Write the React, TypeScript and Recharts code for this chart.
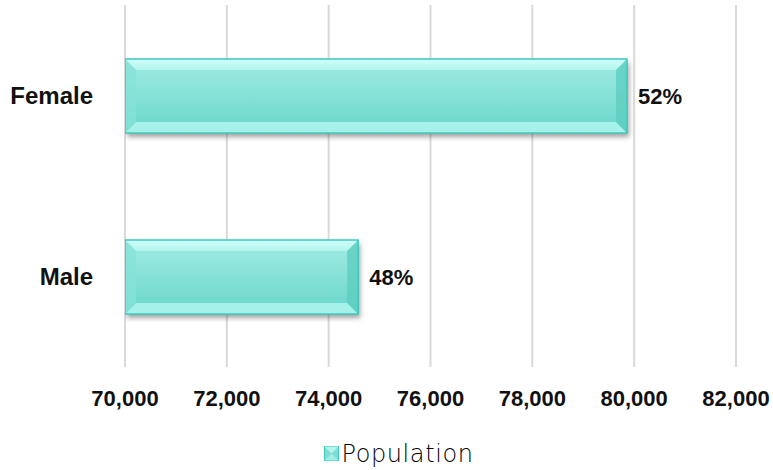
import React from 'react';
import { BarChart, Bar, XAxis, YAxis, CartesianGrid, Legend, LabelList } from 'recharts';

// values
const categories = ['Female', 'Male'];
const population = [79860, 74580];
const xTicks = [70000, 72000, 74000, 76000, 78000, 80000, 82000];
const seriesName = 'Population';

const total = population.reduce((s, v) => s + v, 0);
const chartData = categories.map((name, i) => ({
    name,
    population: population[i],
    share: Math.round((population[i] / total) * 100) + '%',
}));

const BevelBar = (props: any) => {
    const { x, y, width, height } = props;
    if (!width || !height) return null;
    const b = Math.min(11, height / 6, width / 4);
    const r = x + width;
    const bt = y + height;
    return (
        <g>
            <rect x={x + 2} y={y + 4} width={width} height={height} fill="#333" opacity={0.45} filter="url(#barShadow)" />
            <rect x={x} y={y} width={width} height={height} fill="url(#barFill)" />
            <polygon points={`${x},${y} ${r},${y} ${r - b},${y + b} ${x + b},${y + b}`} fill="url(#topBevel)" />
            <polygon points={`${x},${bt} ${r},${bt} ${r - b},${bt - b} ${x + b},${bt - b}`} fill="#a6f2ea" />
            <polygon points={`${x},${y} ${x + b},${y + b} ${x + b},${bt - b} ${x},${bt}`} fill="#86e2d8" opacity={0.8} />
            <polygon points={`${r},${y} ${r - b},${y + b} ${r - b},${bt - b} ${r},${bt}`} fill="#5ecdc1" opacity={0.8} />
            <rect x={x} y={y} width={width} height={height} fill="none" stroke="#3cc9bd" strokeWidth={1.5} />
        </g>
    );
};

const XTick = (props: any) => {
    const { x, y, payload } = props;
    return (
        <text x={x} y={y + 39} textAnchor="middle" fontFamily="'Liberation Sans', Arial, sans-serif" fontWeight="bold" fontSize={22} fill="#111">
            {Number(payload.value).toLocaleString('en-US')}
        </text>
    );
};

const YTick = (props: any) => {
    const { x, y, payload } = props;
    return (
        <text x={x - 32} y={y + 8} textAnchor="end" fontFamily="'Liberation Sans', Arial, sans-serif" fontWeight="bold" fontSize={24} fill="#111">
            {payload.value}
        </text>
    );
};

const ShareLabel = (props: any) => {
    const { x, y, width, height, value } = props;
    return (
        <text x={x + width + 11} y={y + height / 2 + 8} fontFamily="'Liberation Sans', Arial, sans-serif" fontWeight="bold" fontSize={22} fill="#111">
            {value}
        </text>
    );
};

const LegendBox = () => (
    <div style={{ height: 43, boxSizing: 'border-box', paddingTop: 10, paddingLeft: 62, display: 'flex', justifyContent: 'center', alignItems: 'center' }}>
        <svg width={15} height={15} style={{ marginRight: 2 }}>
            <rect x={0.5} y={0.5} width={14} height={14} fill="#7fdcd2" stroke="#3cc9bd" />
            <polygon points="0.5,0.5 14.5,0.5 7.5,7.5" fill="#b4f5ee" />
            <polygon points="0.5,14.5 14.5,14.5 7.5,7.5" fill="#9eeee6" />
        </svg>
        <span style={{ fontFamily: "'DejaVu Sans', sans-serif", fontWeight: 300, fontSize: 24, color: '#000', letterSpacing: 0.6 }}>
            {seriesName}
        </span>
    </div>
);

export default function App() {
    return (
        <div style={{ position: 'absolute', left: 0, top: 0, width: 773, height: 470, background: '#fff' }}>
            <BarChart
                width={773}
                height={470}
                data={chartData}
                layout="vertical"
                margin={{ top: 5, right: 37, bottom: 0, left: 0 }}
            >
                <defs>
                    <linearGradient id="barFill" x1="0" y1="0" x2="0" y2="1">
                        <stop offset="0%" stopColor="#a2ece4" />
                        <stop offset="100%" stopColor="#68d6ca" />
                    </linearGradient>
                    <linearGradient id="topBevel" x1="0" y1="0" x2="0" y2="1">
                        <stop offset="0%" stopColor="#d2fffb" />
                        <stop offset="100%" stopColor="#b2f4ee" />
                    </linearGradient>
                    <filter id="barShadow" x="-5%" y="-20%" width="110%" height="150%">
                        <feGaussianBlur stdDeviation="2.5" />
                    </filter>
                </defs>
                <CartesianGrid horizontal={false} stroke="#d9d9d9" strokeWidth={2} />
                <XAxis
                    type="number"
                    domain={[70000, 82000]}
                    ticks={xTicks}
                    allowDataOverflow
                    axisLine={false}
                    tickLine={false}
                    tickSize={0}
                    tickMargin={0}
                    height={60}
                    tick={<XTick />}
                />
                <YAxis
                    type="category"
                    dataKey="name"
                    width={125}
                    axisLine={false}
                    tickLine={false}
                    tickSize={0}
                    tickMargin={0}
                    tick={<YTick />}
                />
                <Legend verticalAlign="bottom" content={<LegendBox />} />
                <Bar dataKey="population" name={seriesName} barSize={74} shape={<BevelBar />} isAnimationActive={false}>
                    <LabelList dataKey="share" content={<ShareLabel />} />
                </Bar>
            </BarChart>
        </div>
    );
}
